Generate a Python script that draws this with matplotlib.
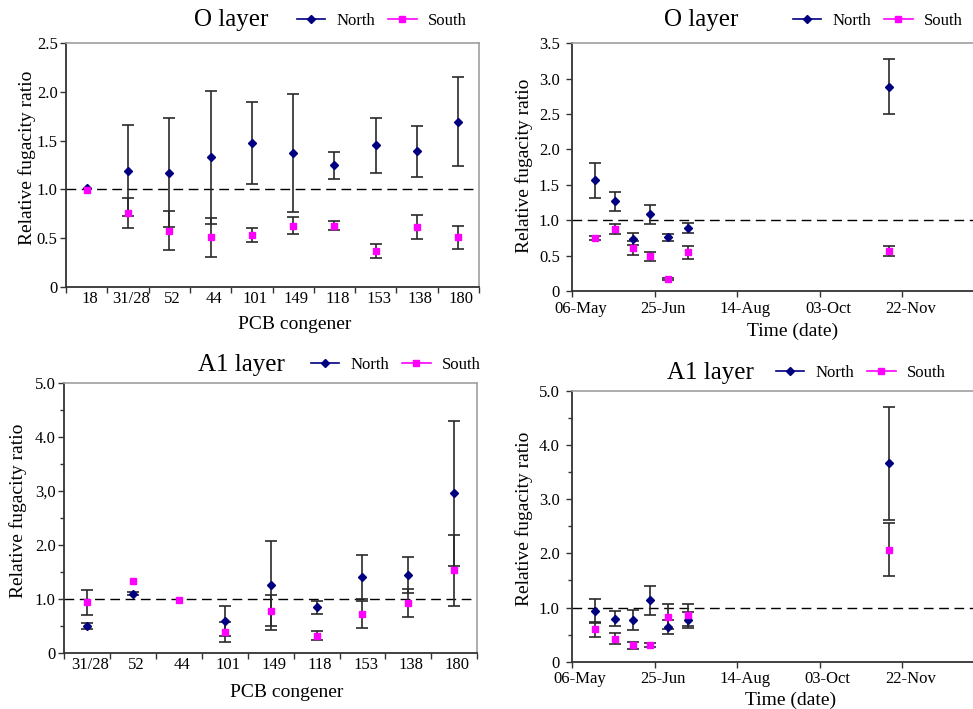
import matplotlib
matplotlib.use('Agg')
import matplotlib.pyplot as plt
import matplotlib.dates as mdates
import matplotlib.transforms as mtransforms
from matplotlib.lines import Line2D
from matplotlib.ticker import MultipleLocator
import numpy as np
import pandas as pd

plt.rcParams['font.family'] = ['Liberation Serif', 'DejaVu Serif']

# ---------------- data ----------------
nan = np.nan
# Panel 1: O layer by congener
cong_o = ["18", "31/28", "52", "44", "101", "149", "118", "153", "138", "180"]
o_north = [1.01, 1.19, 1.17, 1.33, 1.48, 1.37, 1.245, 1.45, 1.39, 1.695]
o_north_err = [nan, 0.465, 0.56, 0.68, 0.42, 0.605, 0.135, 0.28, 0.262, 0.455]
o_south = [0.99, 0.757, 0.576, 0.51, 0.53, 0.63, 0.63, 0.37, 0.614, 0.51]
o_south_err = [nan, 0.15, 0.2, 0.2, 0.07, 0.09, 0.045, 0.07, 0.125, 0.12]
o_yticklabels = ["0", "0.5", "1.0", "1.5", "2.0", "2.5"]

# Panel 2: O layer over time
dates = ["2002-05-20", "2002-06-01", "2002-06-12", "2002-06-22",
         "2002-07-03", "2002-07-15", "2002-11-14"]
ot_north = [1.565, 1.265, 0.735, 1.085, 0.758, 0.888, 2.885]
ot_north_err = [0.245, 0.13, 0.08, 0.135, 0.05, 0.07, 0.39]
ot_south = [0.745, 0.88, 0.61, 0.49, 0.165, 0.545, 0.56]
ot_south_err = [0.03, 0.07, 0.1, 0.06, 0.015, 0.09, 0.07]
ot_yticklabels = ["0", "0.5", "1.0", "1.5", "2.0", "2.5", "3.0", "3.5"]

# Panel 3: A1 layer by congener
cong_a = ["31/28", "52", "44", "101", "149", "118", "153", "138", "180"]
a_north = [0.50, 1.10, nan, 0.60, 1.255, 0.85, 1.415, 1.44, 2.96]
a_north_err = [0.055, 0.03, nan, 0.28, 0.82, 0.125, 0.41, 0.335, 1.34]
a_south = [0.94, 1.33, 0.99, 0.39, 0.79, 0.325, 0.72, 0.93, 1.53]
a_south_err = [0.23, nan, nan, 0.19, 0.28, 0.085, 0.25, 0.26, 0.66]
a_yticklabels = ["0", "1.0", "2.0", "3,0", "4.0", "5.0"]

# Panel 4: A1 layer over time
at_north = [0.94, 0.79, 0.77, 1.13, 0.635, 0.77, 3.66]
at_north_err = [0.225, 0.14, 0.18, 0.27, 0.13, 0.14, 1.045]
at_south = [0.60, 0.425, 0.30, 0.31, 0.83, 0.865, 2.07]
at_south_err = [0.14, 0.105, 0.06, 0.03, 0.235, 0.2, 0.48]
at_yticklabels = ["0", "1.0", "2.0", "3.0", "4.0", "5.0"]

date_ticks = pd.date_range("2002-05-06", periods=6, freq="50D")

# ---------------- style ----------------
NAVY = '#000080'
MAG = '#FF00FF'
ECOL = '#2a2a2a'
W, H = 973, 709

fig = plt.figure(figsize=(W / 100, H / 100), dpi=100)


def px_axes(l, t, r, b):
    return fig.add_axes([l / W, 1 - b / H, (r - l) / W, (b - t) / H])


def base_style(ax):
    for s in ['top', 'right']:
        ax.spines[s].set_color('#a0a0a0')
        ax.spines[s].set_linewidth(1.2)
    for s in ['left', 'bottom']:
        ax.spines[s].set_color('#333333')
        ax.spines[s].set_linewidth(1.3)
    ax.tick_params(axis='both', which='both', direction='out', colors='#333333',
                   labelcolor='black', labelsize=12, width=1)
    ax.tick_params(axis='y', which='major', length=4, pad=2)
    ax.tick_params(axis='y', which='minor', length=3)


def draw_series(ax, x, yn, en, ys, es):
    ax.axhline(1.0, color='black', lw=1.0, linestyle=(0, (7, 4)), zorder=1)
    ax.errorbar(x, yn, yerr=en, fmt='none', ecolor=ECOL, elinewidth=1.2,
                capsize=4, capthick=1.2, zorder=2)
    ax.errorbar(x, ys, yerr=es, fmt='none', ecolor=ECOL, elinewidth=1.2,
                capsize=4, capthick=1.2, zorder=2)
    ax.plot(x, yn, 'D', color=NAVY, ms=4.5, zorder=3, linestyle='none')
    ax.plot(x, ys, 's', color=MAG, ms=5, zorder=3, linestyle='none')


def offset_labels(ax, dx_px, minor):
    tr = mtransforms.ScaledTranslation(dx_px / 100, 0, fig.dpi_scale_trans)
    for lbl in ax.get_xticklabels(minor=minor):
        lbl.set_transform(lbl.get_transform() + tr)


def cat_axis(ax, cats):
    n = len(cats)
    ax.set_xlim(0, n)
    ax.set_xticks(np.arange(n + 1))
    ax.set_xticklabels([])
    ax.set_xticks(np.arange(n) + 0.5, minor=True)
    ax.set_xticklabels(cats, minor=True)
    ax.tick_params(axis='x', which='major', length=4)
    ax.tick_params(axis='x', which='minor', length=0, pad=3)
    offset_labels(ax, 3, True)


def time_axis(ax):
    ax.set_xlim(date_ticks[0], date_ticks[-1])
    ax.set_xticks(date_ticks[:-1])
    ax.xaxis.set_major_formatter(mdates.DateFormatter('%d-%b'))
    ax.tick_params(axis='x', which='major', length=4, pad=3)
    offset_labels(ax, 8, False)


def labels(ax, xlabel, xl, yl):
    ax.set_xlabel(xlabel, fontsize=14)
    ax.set_ylabel('Relative fugacity ratio', fontsize=14)
    ax.xaxis.set_label_coords(*xl)
    ax.yaxis.set_label_coords(*yl)
    ax.xaxis.label.set_va('center')
    ax.yaxis.label.set_va('center')


def title_legend(tx, ty, title, lx, ly):
    fig.text(tx / W, 1 - ty / H, title, fontsize=18, ha='center', va='center')
    handles = [Line2D([], [], color=NAVY, marker='D', ms=4, lw=1.2),
               Line2D([], [], color=MAG, marker='s', ms=4.5, lw=1.2)]
    fig.legend(handles=handles, labels=['North', 'South'], loc='center',
               bbox_to_anchor=(lx / W, 1 - ly / H), ncol=2, frameon=False,
               fontsize=12, handlelength=1.7, handletextpad=0.7,
               columnspacing=0.75, borderpad=0, borderaxespad=0)


# ---------- Panel 1 ----------
ax1 = px_axes(66, 43, 479, 287)
base_style(ax1)
x1 = np.arange(len(cong_o)) + 0.5
draw_series(ax1, x1, o_north, o_north_err, o_south, o_south_err)
cat_axis(ax1, cong_o)
ax1.set_ylim(0, 2.5)
ax1.set_yticks(np.arange(len(o_yticklabels)) * 0.5)
ax1.set_yticklabels(o_yticklabels)
labels(ax1, 'PCB congener', (0.554, -0.152), (-0.094, 0.53))
title_legend(231, 20, 'O layer', 382, 21)

# ---------- Panel 2 ----------
ax2 = px_axes(572.3, 43.3, 985, 291)
base_style(ax2)
d = pd.to_datetime(dates)
draw_series(ax2, d, ot_north, ot_north_err, ot_south, ot_south_err)
time_axis(ax2)
ax2.set_ylim(0, 3.5)
ax2.set_yticks(np.arange(len(ot_yticklabels)) * 0.5)
ax2.set_yticklabels(ot_yticklabels)
ax2.tick_params(axis='y', which='major', pad=5)
labels(ax2, 'Time (date)', (0.534, -0.164), (-0.117, 0.505))
title_legend(701, 20, 'O layer', 878, 21)

# ---------- Panel 3 ----------
ax3 = px_axes(64, 382.7, 477.3, 653.3)
base_style(ax3)
x3 = np.arange(len(cong_a)) + 0.5
draw_series(ax3, x3, a_north, a_north_err, a_south, a_south_err)
cat_axis(ax3, cong_a)
ax3.set_ylim(0, 5)
ax3.set_yticks(np.arange(len(a_yticklabels)) * 1.0)
ax3.set_yticklabels(a_yticklabels)
ax3.yaxis.set_minor_locator(MultipleLocator(0.5))
labels(ax3, 'PCB congener', (0.539, -0.146), (-0.111, 0.527))
title_legend(241, 365, 'A1 layer', 396, 365)

# ---------- Panel 4 ----------
ax4 = px_axes(572, 390.7, 985, 661.7)
base_style(ax4)
draw_series(ax4, d, at_north, at_north_err, at_south, at_south_err)
time_axis(ax4)
ax4.set_ylim(0, 5)
ax4.set_yticks(np.arange(len(at_yticklabels)) * 1.0)
ax4.set_yticklabels(at_yticklabels)
ax4.yaxis.set_minor_locator(MultipleLocator(0.5))
ax4.tick_params(axis='y', which='major', pad=5)
labels(ax4, 'Time (date)', (0.530, -0.144), (-0.1155, 0.528))
title_legend(710, 373, 'A1 layer', 861, 373)

fig.savefig('out.png', dpi=100)
